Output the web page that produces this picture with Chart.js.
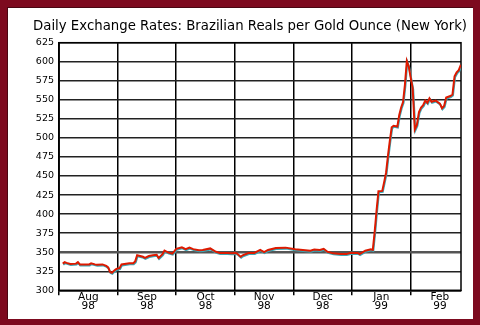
<!DOCTYPE html>
<html>
<head>
<meta charset="utf-8">
<script src="https://cdn.jsdelivr.net/npm/chart.js@4.4.1/dist/chart.umd.min.js"></script>
<style>
  html, body { margin: 0; padding: 0; }
  body { width: 480px; height: 325px; background: #7d0a1f; position: relative; overflow: hidden; }
  .panel {
    position: absolute; left: 7px; top: 7px; width: 466px; height: 312px;
    background: #fff; box-sizing: border-box;
    border-top: 1px solid #4a0612; border-left: 1px solid #4a0612;
  }
  canvas { position: absolute; left: 0; top: 0; }
</style>
</head>
<body>
<div class="panel"><canvas id="rateChart" width="465" height="311"></canvas></div>
<script>
const chartTitle = "Daily Exchange Rates: Brazilian Reals per Gold Ounce (New York)";
const monthLabels = [["Aug", "98"], ["Sep", "98"], ["Oct", "98"], ["Nov", "98"], ["Dec", "98"], ["Jan", "99"], ["Feb", "99"]];

// trading days and reals per ounce
const dates = [
  "1998-08-03", "1998-08-04", "1998-08-05", "1998-08-07", "1998-08-10", "1998-08-11", "1998-08-12", "1998-08-14",
  "1998-08-17", "1998-08-18", "1998-08-20", "1998-08-21", "1998-08-24", "1998-08-26", "1998-08-27", "1998-08-28",
  "1998-08-29", "1998-08-30", "1998-08-31",
  "1998-09-01", "1998-09-02", "1998-09-03", "1998-09-07", "1998-09-09", "1998-09-10", "1998-09-11", "1998-09-14",
  "1998-09-15", "1998-09-17", "1998-09-19", "1998-09-21", "1998-09-22", "1998-09-24", "1998-09-25", "1998-09-27",
  "1998-09-29", "1998-09-30",
  "1998-10-01", "1998-10-04", "1998-10-06", "1998-10-08", "1998-10-10", "1998-10-13", "1998-10-15", "1998-10-19",
  "1998-10-22", "1998-10-24", "1998-10-28", "1998-10-30",
  "1998-11-01", "1998-11-02", "1998-11-04", "1998-11-05", "1998-11-08", "1998-11-11", "1998-11-14", "1998-11-16",
  "1998-11-18", "1998-11-22", "1998-11-27",
  "1998-12-02", "1998-12-06", "1998-12-10", "1998-12-12", "1998-12-15", "1998-12-17", "1998-12-19", "1998-12-22",
  "1998-12-26", "1998-12-29", "1998-12-31",
  "1999-01-04", "1999-01-05", "1999-01-07", "1999-01-08", "1999-01-11", "1999-01-12", "1999-01-13", "1999-01-14",
  "1999-01-15", "1999-01-17", "1999-01-18", "1999-01-19", "1999-01-20", "1999-01-21", "1999-01-22", "1999-01-23",
  "1999-01-25", "1999-01-26", "1999-01-27", "1999-01-28", "1999-01-29", "1999-01-30", "1999-01-31",
  "1999-02-01", "1999-02-02", "1999-02-03", "1999-02-04", "1999-02-05", "1999-02-06", "1999-02-07", "1999-02-08",
  "1999-02-09", "1999-02-10", "1999-02-11", "1999-02-13", "1999-02-15", "1999-02-16", "1999-02-17", "1999-02-18",
  "1999-02-20", "1999-02-21", "1999-02-22", "1999-02-23", "1999-02-24", "1999-02-25"
];
const rates = [
  335, 337, 336, 334.5, 335, 337, 334, 334,
  334, 335.5, 334, 333.5, 334, 332, 330, 324,
  323, 325.5, 327.5,
  328.5, 329, 334, 335.5, 335.5, 338, 346, 344,
  342.5, 345, 346, 346.5, 342.5, 347.5, 352, 349.5,
  348, 351,
  354.5, 356.5, 354, 356, 354, 352.5, 353, 355,
  350.5, 349, 349, 348.5,
  349, 348.5, 344, 346, 349, 349, 353, 350,
  353, 355.5, 356,
  354, 353, 352, 353.5, 353, 354.5, 350.5, 348.5,
  347.5, 347.5, 349,
  349, 347.5, 350.5, 352, 353.8, 353, 377, 405,
  430, 430.5, 442, 454, 476, 496, 514, 516,
  515, 530, 540, 547, 570, 601, 594,
  580, 565, 511, 517, 534, 540, 543, 549,
  546, 552, 547.5, 549, 545, 539, 542, 553,
  555, 557, 581, 586, 589, 596
];

// position in months from Aug 1 1998, so every month gets the same width
function monthPos(d) {
  const [y, m, day] = d.split("-").map(Number);
  const daysInMonth = new Date(y, m, 0).getDate();
  return (y - 1998) * 12 + (m - 8) + (day - 1) / daysInMonth;
}
const points = dates.map((d, i) => ({ x: monthPos(d), y: rates[i] }));

const tickFont = { family: '"DejaVu Sans", sans-serif', size: 9.5 };
const monthFont = { family: '"DejaVu Sans", sans-serif', size: 10.5, lineHeight: 0.9 };

// thin teal shadow under the red line
const lineShadow = {
  id: "lineShadow",
  beforeDatasetDraw(chart) {
    const ctx = chart.ctx;
    ctx.save();
    ctx.shadowColor = "#3aa9b8";
    ctx.shadowOffsetX = 0.5;
    ctx.shadowOffsetY = 1;
    ctx.shadowBlur = 0;
  },
  afterDatasetDraw(chart) {
    chart.ctx.restore();
  }
};

// box round the plot + title text
const frameAndTitle = {
  id: "frameAndTitle",
  beforeDatasetsDraw(chart) {
    const { ctx, chartArea: a } = chart;
    ctx.save();
    ctx.strokeStyle = "#000";
    ctx.lineWidth = 1.5;
    ctx.strokeRect(a.left, a.top, a.right - a.left, a.bottom - a.top);
    ctx.restore();
  },
  afterDraw(chart) {
    const ctx = chart.ctx;
    ctx.save();
    ctx.fillStyle = "#000";
    ctx.font = '13.3px "DejaVu Sans", sans-serif';
    ctx.textBaseline = "alphabetic";
    ctx.fillText(chartTitle, 25, 22);
    ctx.restore();
  }
};

const rateChart = new Chart(document.getElementById("rateChart"), {
  type: "line",
  data: {
    datasets: [{
      data: points,
      borderColor: "#dd1a00",
      borderWidth: 2,
      pointRadius: 0,
      tension: 0,
      fill: false
    }]
  },
  options: {
    responsive: false,
    animation: false,
    devicePixelRatio: 1,
    layout: { padding: { top: 34.7, right: 12, left: 0, bottom: 0 } },
    plugins: { legend: { display: false }, tooltip: { enabled: false }, title: { display: false } },
    scales: {
      x: {
        type: "linear",
        min: 0,
        max: 6.86,
        afterFit: s => { s.height = 28.7; },
        grid: { color: "#000", lineWidth: 1.5, drawTicks: true, tickLength: 5 },
        border: { color: "#000", width: 1.5 },
        ticks: {
          stepSize: 1,
          includeBounds: false,
          autoSkip: false,
          maxRotation: 0,
          labelOffset: 29.3,
          padding: -3,
          color: "#000",
          font: monthFont,
          callback: v => monthLabels[v] || ""
        }
      },
      y: {
        min: 300,
        max: 625,
        afterFit: s => { s.width = 51; },
        grid: {
          drawTicks: false,
          color: c => (c.tick && c.tick.value === 350 ? "#555" : "#222"),
          lineWidth: c => (c.tick && c.tick.value === 350 ? 2.5 : 1.5)
        },
        border: { color: "#000", width: 1.5 },
        ticks: { stepSize: 25, padding: 5, color: "#000", font: tickFont }
      }
    }
  },
  plugins: [lineShadow, frameAndTitle]
});
</script>
</body>
</html>
